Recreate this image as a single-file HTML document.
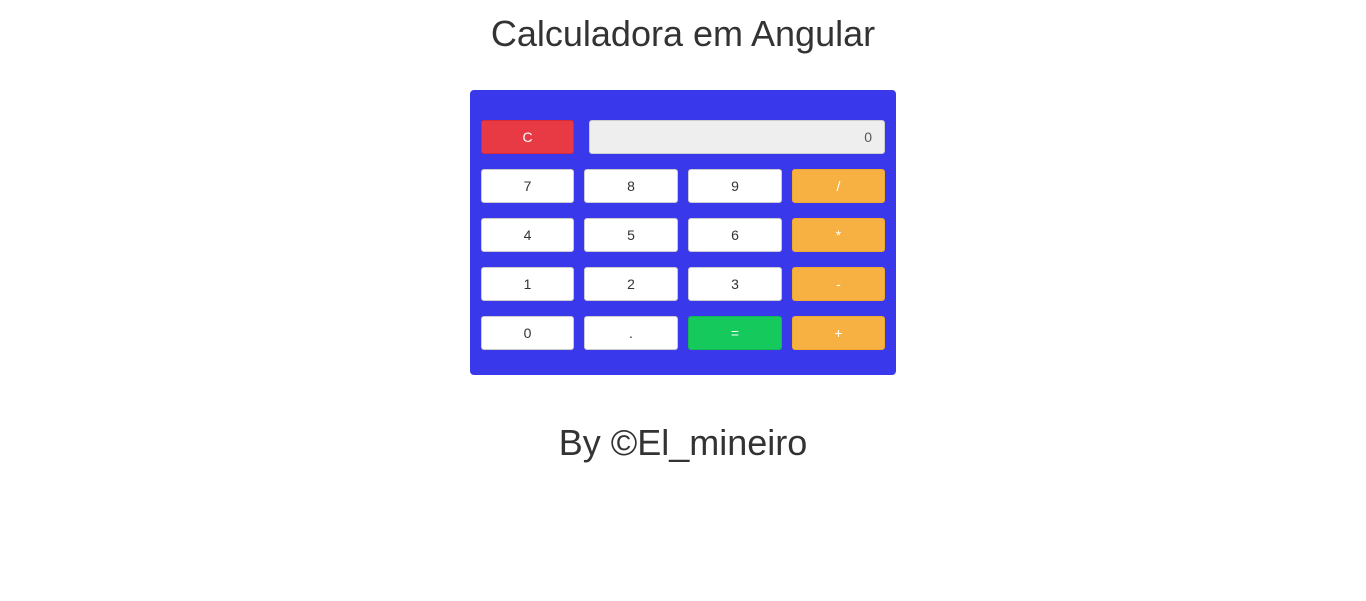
<!DOCTYPE html>
<html><head><style>
body{margin:0;width:1366px;height:601px;background:#fff;font-family:"Liberation Sans",sans-serif;color:#333;position:relative;overflow:hidden}
h1{position:absolute;top:12px;left:0;width:1366px;text-align:center;margin:0;font-weight:normal;font-size:36px;line-height:44px;color:#333}
.f{top:421px}
.calc{position:absolute;left:470px;top:90px;width:426px;height:285px;background:#3a38eb;border-radius:4px}
.b{position:absolute;width:92px;height:32px;border:1px solid #ccc;border-radius:3px;background:#fff;font-size:14px;line-height:32px;text-align:center;color:#333}
.n{width:91px}
.o{background:#f6b142;border-color:#f0a830;color:#fff}
.r{background:#e83a45;border-color:#d92838;color:#fff}
.g{background:#16c95c;border-color:#12b851;color:#fff}
.d{position:absolute;left:119px;top:30px;width:294px;height:32px;background:#eee;border:1px solid #ccc;border-radius:3px;text-align:right;font-size:14px;line-height:32px;color:#555}
.d span{padding-right:12px}
</style></head><body>
<h1>Calculadora em Angular</h1>
<div class="calc">
<div class="b r n" style="left:11px;top:30px">C</div>
<div class="d"><span>0</span></div>
<div class="b n" style="left:11px;top:79px">7</div>
<div class="b" style="left:114px;top:79px">8</div>
<div class="b" style="left:218px;top:79px">9</div>
<div class="b o n" style="left:322px;top:79px">/</div>
<div class="b n" style="left:11px;top:128px">4</div>
<div class="b" style="left:114px;top:128px">5</div>
<div class="b" style="left:218px;top:128px">6</div>
<div class="b o n" style="left:322px;top:128px">*</div>
<div class="b n" style="left:11px;top:177px">1</div>
<div class="b" style="left:114px;top:177px">2</div>
<div class="b" style="left:218px;top:177px">3</div>
<div class="b o n" style="left:322px;top:177px">-</div>
<div class="b n" style="left:11px;top:226px">0</div>
<div class="b" style="left:114px;top:226px">.</div>
<div class="b g" style="left:218px;top:226px">=</div>
<div class="b o n" style="left:322px;top:226px">+</div>
</div>
<h1 class="f">By ©El_mineiro</h1>
</body></html>
